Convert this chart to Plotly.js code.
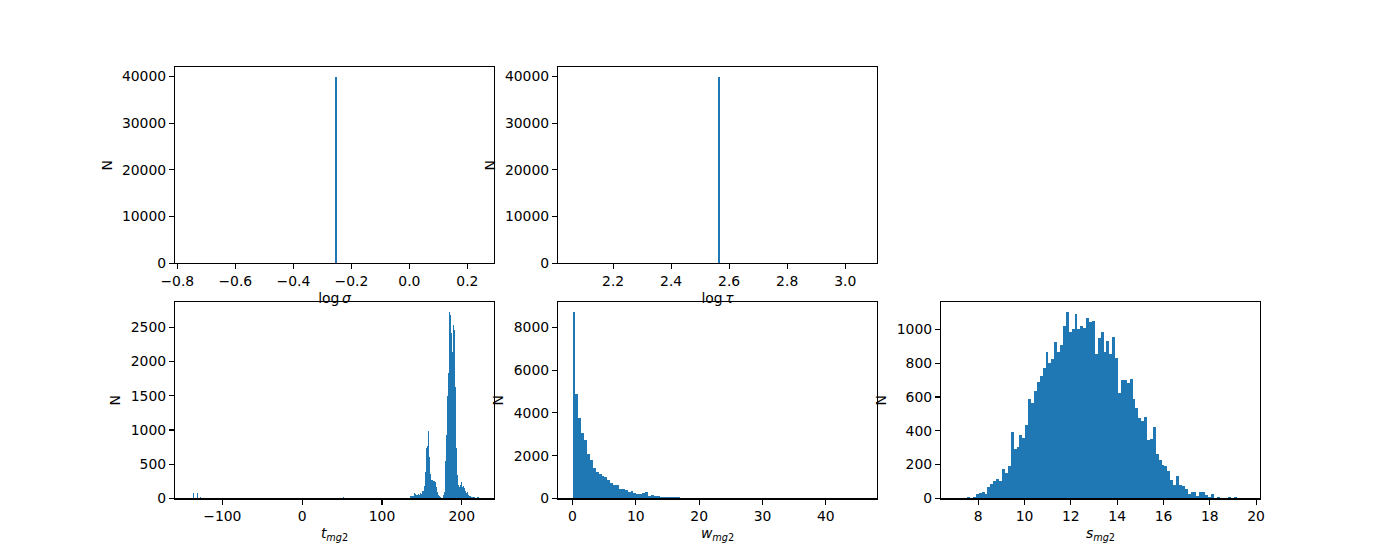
<!DOCTYPE html>
<html>
<head>
<meta charset="utf-8">
<script src="https://cdn.plot.ly/plotly-3.0.1.min.js"></script>
<style>html,body{margin:0;padding:0;background:#fff;}#chart{width:1400px;height:560px;}</style>
</head>
<body>
<div id="chart"></div>
<script>
// ---------- data ----------
// log sigma: all samples in one bin
const sigmaBinCenter = [-0.253];
const sigmaCounts = [40000];
const sigmaBinWidth = 0.008;

// log tau: all samples in one bin
const tauBinCenter = [2.565];
const tauCounts = [40000];
const tauBinWidth = 0.008;

// t_mg2: isolated small bins
const tIsoCenters = [-141.0, -136.1, -131.1, -127.6, 51.9, 222.0];
const tIsoCounts = [2, 75, 75, 20, 20, 3];
// t_mg2: main cluster, contiguous bins starting at tClusterStart
const tClusterStart = 135.3;
const tBinWidth = 1.2535;
const tClusterCounts = [
  34, 34, 40, 30, 78, 70, 55, 50, 60, 55,
  78, 70, 107, 110, 180, 380, 740, 770, 984, 600,
  360, 270, 265, 250, 260, 240, 170, 100, 50, 30,
  20, 12, 10, 50, 98, 540, 925, 1500, 1830, 2730,
  2680, 2413, 2145, 2535, 2462, 1633, 732, 342, 196, 171,
  196, 235, 171, 181, 157, 113, 74, 88, 50, 35,
  35, 20, 20, 25, 25, 10, 10, 15, 15, 5,
  5, 5, 3, 3, 3
];

// w_mg2: 100 bins from 0
const wStart = 0.0;
const wBinWidth = 0.458;
const wCounts = [
  8720, 4880, 3760, 3060, 2730, 2080, 1800, 1420, 1230, 1140,
  1050, 1000, 860, 720, 630, 630, 440, 440, 390, 300,
  345, 250, 205, 205, 250, 300, 110, 160, 110, 110,
  65, 65, 65, 65, 65, 65, 65, 10, 8, 5,
  4, 3, 2, 3, 1, 2, 1, 0, 1, 0,
  1, 0, 0, 1, 0, 0, 0, 1, 0, 0,
  0, 0, 0, 1, 0, 0, 0, 0, 0, 0,
  0, 0, 0, 0, 0, 0, 0, 0, 0, 0,
  0, 0, 0, 0, 0, 0, 0, 0, 0, 0,
  0, 0, 0, 0, 0, 0, 0, 0, 0, 1
];

// s_mg2: 100 bins from sStart
const sStart = 7.02;
const sBinWidth = 0.1253;
const sCounts = [
  1, 0, 0, 0, 8, 0, 8, 26, 32, 37,
  26, 67, 85, 103, 114, 103, 174, 150, 191, 392,
  292, 304, 375, 357, 434, 588, 564, 635, 688, 724,
  771, 866, 801, 824, 925, 866, 907, 1020, 1102, 984,
  1002, 1090, 1002, 1020, 1008, 1067, 1043, 1049, 854, 949,
  984, 866, 931, 854, 954, 830, 623, 700, 700, 682,
  706, 588, 534, 475, 457, 481, 345, 351, 422, 262,
  227, 197, 191, 162, 108, 79, 132, 79, 73, 55,
  26, 37, 37, 14, 37, 37, 20, 8, 26, 2,
  8, 0, 0, 0, 8, 0, 8, 0, 0, 1
];

// tick labels
const sigmaTickVals = [-0.8, -0.6, -0.4, -0.2, 0.0, 0.2];
const sigmaTickText = ["\u22120.8", "\u22120.6", "\u22120.4", "\u22120.2", "0.0", "0.2"];
const tauTickVals = [2.2, 2.4, 2.6, 2.8, 3.0];
const tauTickText = ["2.2", "2.4", "2.6", "2.8", "3.0"];
const topYTickVals = [0, 10000, 20000, 30000, 40000];
const topYTickText = ["0", "10000", "20000", "30000", "40000"];
const tTickVals = [-100, 0, 100, 200];
const tTickText = ["\u2212100", "0", "100", "200"];
const tYTickVals = [0, 500, 1000, 1500, 2000, 2500];
const tYTickText = ["0", "500", "1000", "1500", "2000", "2500"];
const wTickVals = [0, 10, 20, 30, 40];
const wTickText = ["0", "10", "20", "30", "40"];
const wYTickVals = [0, 2000, 4000, 6000, 8000];
const wYTickText = ["0", "2000", "4000", "6000", "8000"];
const sTickVals = [8, 10, 12, 14, 16, 18, 20];
const sTickText = ["8", "10", "12", "14", "16", "18", "20"];
const sYTickVals = [0, 200, 400, 600, 800, 1000];
const sYTickText = ["0", "200", "400", "600", "800", "1000"];

// ---------- build ----------
const BLUE = '#1f77b4';
function centers(start, width, n) {
  const c = [];
  for (let i = 0; i < n; i++) c.push(start + (i + 0.5) * width);
  return c;
}
function barTrace(x, y, width, xa, ya) {
  const yy = y.map(v => (v > 0 ? v : null));
  return {type: 'bar', x: x, y: yy, width: width, xaxis: xa, yaxis: ya,
          marker: {color: BLUE, line: {width: 0}},
          hoverinfo: 'skip', showlegend: false};
}

const traces = [
  barTrace(sigmaBinCenter, sigmaCounts, sigmaBinWidth, 'x', 'y'),
  barTrace(tauBinCenter, tauCounts, tauBinWidth, 'x2', 'y2'),
  barTrace(tIsoCenters, tIsoCounts, tBinWidth, 'x3', 'y3'),
  barTrace(centers(tClusterStart, tBinWidth, tClusterCounts.length), tClusterCounts, tBinWidth, 'x3', 'y3'),
  barTrace(centers(wStart, wBinWidth, wCounts.length), wCounts, wBinWidth, 'x4', 'y4'),
  barTrace(centers(sStart, sBinWidth, sCounts.length), sCounts, sBinWidth, 'x5', 'y5')
];

const FONT = {family: 'DejaVu Sans', size: 13.9, color: '#000'};
function xax(domain, anchor, range, tv, tt, title) {
  return {domain: domain, anchor: anchor, range: range, tickmode: 'array', tickvals: tv, ticktext: tt,
          showline: true, mirror: true, linecolor: '#000', linewidth: 1.1, ticks: 'outside', ticklen: 5,
          tickwidth: 1.1, tickcolor: '#000', showgrid: false, zeroline: false, tickfont: FONT,
          title: {text: title, font: FONT, standoff: 5}};
}
function yax(domain, anchor, range, tv, tt) {
  return {domain: domain, anchor: anchor, range: range, tickmode: 'array', tickvals: tv, ticktext: tt,
          showline: true, mirror: true, linecolor: '#000', linewidth: 1.1, ticks: 'outside', ticklen: 5,
          tickwidth: 1.1, tickcolor: '#000', showgrid: false, zeroline: false, tickfont: FONT,
          title: {text: 'N', font: FONT, standoff: 6}};
}

const c1 = [175/1400, 494.1/1400], c2 = [558/1400, 877.1/1400], c3 = [941/1400, 1260/1400];
const rTop = [1 - 263.2/560, 1 - 67.2/560], rBot = [0.11, 1 - 302.4/560];

const layout = {
  width: 1400, height: 560, margin: {l: 0, r: 0, t: 0, b: 0},
  paper_bgcolor: '#fff', plot_bgcolor: '#fff', font: FONT, showlegend: false,
  barmode: 'overlay', bargap: 0, bargroupgap: 0,
  xaxis: xax(c1, 'y', [-0.808, 0.292], sigmaTickVals, sigmaTickText, 'log\u2009<i>\u03c3</i>'),
  yaxis: yax(rTop, 'x', [0, 42000], topYTickVals, topYTickText),
  xaxis2: xax(c2, 'y2', [2.01, 3.11], tauTickVals, tauTickText, 'log\u2009<i>\u03c4</i>'),
  yaxis2: yax(rTop, 'x2', [0, 42000], topYTickVals, topYTickText),
  xaxis3: xax(c1, 'y3', [-159.3, 240.5], tTickVals, tTickText, '<i>t</i><sub><i>mg</i>2</sub>'),
  yaxis3: yax(rBot, 'x3', [0, 2866], tYTickVals, tYTickText),
  xaxis4: xax(c2, 'y4', [-2.29, 48.1], wTickVals, wTickText, '<i>w</i><sub><i>mg</i>2</sub>'),
  yaxis4: yax(rBot, 'x4', [0, 9165], wYTickVals, wYTickText),
  xaxis5: xax(c3, 'y5', [6.39, 20.17], sTickVals, sTickText, '<i>s</i><sub><i>mg</i>2</sub>'),
  yaxis5: yax(rBot, 'x5', [0, 1160], sYTickVals, sYTickText)
};

Plotly.newPlot('chart', traces, layout, {staticPlot: true, displayModeBar: false});
</script>
</body>
</html>
